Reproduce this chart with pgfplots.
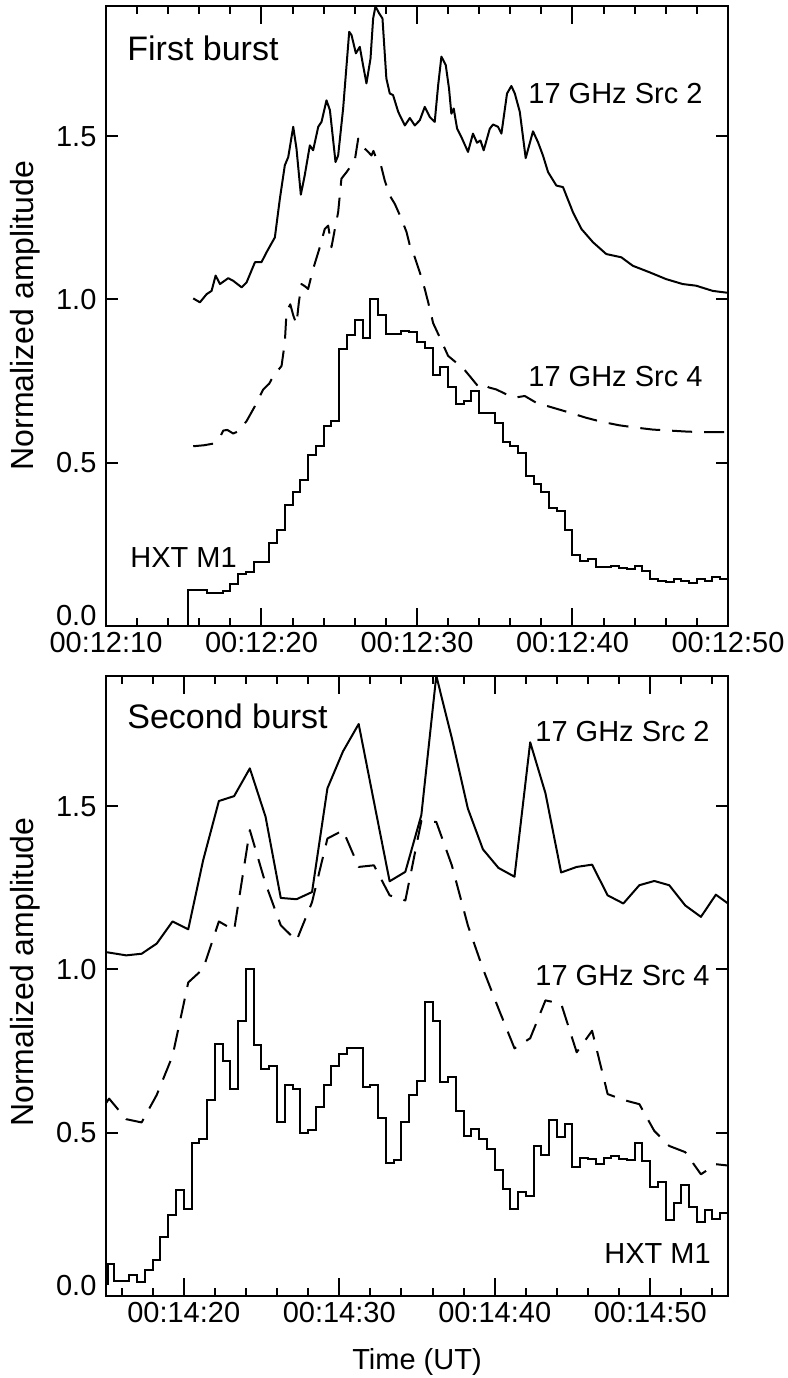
\documentclass[border=0pt]{standalone}
\usepackage{fontspec}
\setmainfont{Liberation Sans}
\usepackage{pgfplots}
\pgfplotsset{compat=1.18}
\pgfplotstableread{
x y
15.61 1.003
16.04 0.991
16.47 1.016
16.79 1.026
17.05 1.073
17.33 1.047
17.86 1.065
18.18 1.057
18.72 1.037
19.04 1.052
19.58 1.114
20.00 1.114
20.32 1.144
20.86 1.190
21.18 1.308
21.50 1.411
21.72 1.436
22.04 1.529
22.25 1.462
22.53 1.321
22.78 1.380
23.11 1.472
23.32 1.457
23.65 1.529
23.86 1.544
24.18 1.610
24.40 1.580
24.76 1.421
24.93 1.441
25.25 1.585
25.64 1.820
25.79 1.810
26.07 1.754
26.32 1.774
26.53 1.718
26.75 1.662
27.01 1.738
27.18 1.861
27.33 1.898
27.56 1.877
27.78 1.861
28.03 1.677
28.25 1.631
28.46 1.626
28.79 1.575
29.00 1.554
29.22 1.533
29.54 1.556
29.86 1.533
30.18 1.549
30.50 1.590
30.82 1.559
31.14 1.544
31.36 1.656
31.57 1.744
31.85 1.718
32.06 1.646
32.21 1.569
32.36 1.585
32.58 1.523
32.85 1.498
33.28 1.452
33.60 1.508
33.86 1.480
34.08 1.487
34.29 1.457
34.68 1.523
34.89 1.536
35.21 1.529
35.43 1.508
35.79 1.631
36.07 1.654
36.29 1.631
36.61 1.575
36.99 1.433
37.46 1.515
37.78 1.482
38.10 1.441
38.43 1.390
38.96 1.349
39.39 1.344
40.03 1.267
40.57 1.216
41.32 1.175
42.17 1.139
43.14 1.129
43.88 1.103
44.96 1.083
46.03 1.062
47.09 1.047
47.95 1.042
49.02 1.026
49.85 1.021
50.00 1.020
}\topsrctwo
\pgfplotstableread{
x y
15.61 0.550
16.30 0.553
16.90 0.558
17.30 0.575
17.54 0.598
17.80 0.600
18.18 0.589
18.52 0.596
19.04 0.627
19.58 0.673
20.11 0.724
20.50 0.742
20.76 0.765
21.29 0.796
21.50 0.868
21.61 0.962
21.85 0.985
22.05 0.950
22.25 0.924
22.40 0.990
22.57 1.047
22.80 1.040
23.00 1.032
23.32 1.093
23.75 1.160
24.07 1.216
24.29 1.226
24.50 1.160
24.72 1.216
24.93 1.267
25.14 1.370
25.47 1.390
26.00 1.426
26.22 1.493
26.53 1.467
26.86 1.452
27.07 1.441
27.20 1.455
27.35 1.436
27.63 1.421
27.93 1.364
28.25 1.318
28.57 1.293
29.00 1.247
29.33 1.206
29.54 1.165
29.75 1.144
30.18 1.083
30.50 1.032
30.72 0.991
31.04 0.927
31.47 0.883
32.00 0.827
32.30 0.815
32.53 0.806
32.85 0.796
33.39 0.765
33.99 0.730
34.36 0.737
34.63 0.730
35.10 0.724
35.75 0.709
36.29 0.699
36.93 0.704
37.68 0.683
38.75 0.668
39.82 0.653
40.89 0.637
41.96 0.624
43.03 0.614
44.10 0.607
45.17 0.601
46.25 0.598
47.32 0.595
48.39 0.593
49.78 0.593
50.00 0.592
}\topsrcfour
\pgfplotstableread{
x y
15.29 0
15.29 0.108
16.5 0.100
17.0 0.101
17.5 0.106
18.0 0.127
18.5 0.159
19.0 0.164
19.5 0.194
20.5 0.253
21.0 0.294
21.5 0.369
22.0 0.409
22.5 0.448
23.0 0.522
23.5 0.550
24.0 0.611
24.5 0.626
25.0 0.849
25.5 0.891
26.0 0.937
26.5 0.881
27.0 1.000
27.5 0.953
28.0 0.893
28.5 0.895
29.0 0.902
29.5 0.900
30.0 0.868
30.5 0.850
31.0 0.767
31.5 0.794
32.0 0.733
32.5 0.678
33.0 0.688
33.5 0.719
34.0 0.653
35.0 0.620
35.5 0.562
36.0 0.550
36.5 0.530
37.0 0.460
37.5 0.434
38.0 0.409
38.5 0.361
39.0 0.353
39.5 0.292
40.0 0.217
40.5 0.199
41.0 0.205
41.5 0.179
42.0 0.181
42.5 0.183
43.0 0.176
43.5 0.175
44.0 0.184
44.5 0.169
45.0 0.143
45.5 0.138
46.0 0.135
46.5 0.144
47.0 0.138
47.5 0.130
48.0 0.144
48.5 0.138
49.0 0.148
49.5 0.143
50.0 0.143
}\tophxt
\pgfplotstableread{
x y
15.00 1.053
16.30 1.043
17.29 1.048
18.26 1.079
19.28 1.147
20.29 1.123
21.25 1.335
22.26 1.516
23.24 1.531
24.25 1.616
25.26 1.468
26.24 1.219
27.25 1.215
28.25 1.237
29.24 1.555
30.24 1.668
31.25 1.752
32.23 1.514
33.24 1.270
34.25 1.299
35.28 1.473
36.24 1.900
37.24 1.709
38.27 1.493
39.24 1.368
40.24 1.311
41.27 1.284
42.28 1.696
43.26 1.540
44.27 1.297
45.27 1.314
46.26 1.321
47.26 1.227
48.27 1.202
49.30 1.258
50.26 1.271
51.22 1.258
52.25 1.196
53.26 1.161
54.22 1.229
55.00 1.202
}\botsrctwo
\pgfplotstableread{
x y
15.00 0.590
15.20 0.604
16.30 0.541
17.29 0.531
18.26 0.615
19.28 0.735
20.29 0.960
21.25 1.002
22.26 1.147
23.24 1.120
24.25 1.427
25.26 1.263
26.24 1.135
27.25 1.088
28.25 1.206
29.24 1.401
30.24 1.426
31.25 1.314
32.23 1.319
33.24 1.227
34.25 1.211
35.28 1.455
36.24 1.452
37.24 1.319
38.27 1.135
39.24 1.002
40.24 0.880
41.27 0.758
42.28 0.789
43.26 0.905
44.27 0.895
45.27 0.746
46.26 0.812
47.26 0.618
48.27 0.600
49.30 0.587
50.26 0.505
51.22 0.459
52.25 0.440
53.26 0.372
54.22 0.403
55.00 0.399
}\botsrcfour
\pgfplotstableread{
x y
15.0 0.036
15.1 0.098
15.5 0.044
16.0 0.044
16.5 0.062
17.0 0.042
17.5 0.078
18.0 0.109
18.5 0.180
19.0 0.246
19.5 0.323
20.0 0.266
20.5 0.467
21.0 0.481
21.5 0.599
22.0 0.771
22.5 0.720
23.0 0.635
23.5 0.841
24.0 1.000
24.5 0.768
25.0 0.695
25.5 0.705
26.0 0.531
26.5 0.645
27.0 0.635
27.5 0.498
28.0 0.509
28.5 0.577
29.0 0.645
29.5 0.705
30.0 0.741
30.5 0.758
31.0 0.760
31.5 0.641
32.0 0.645
32.5 0.546
33.0 0.406
33.5 0.415
34.0 0.531
34.5 0.615
35.0 0.659
35.5 0.901
36.0 0.843
36.5 0.656
37.0 0.671
37.5 0.566
38.0 0.488
38.5 0.510
39.0 0.479
39.5 0.449
40.0 0.385
40.5 0.326
41.0 0.266
41.5 0.318
42.0 0.305
42.5 0.459
43.0 0.431
43.5 0.538
44.0 0.487
44.5 0.525
45.0 0.394
45.5 0.423
46.0 0.420
46.5 0.403
47.0 0.423
47.5 0.428
48.0 0.418
48.5 0.415
49.0 0.469
49.5 0.413
50.0 0.334
50.5 0.348
51.0 0.231
51.5 0.283
52.0 0.338
52.5 0.273
53.0 0.225
53.5 0.264
54.0 0.236
54.5 0.254
55.0 0.254
}\bothxt
\pgfplotsset{
  panel/.style={
    scale only axis, width=311pt, height=310pt,
    ymin=0, ymax=1.9,
    axis line style={line width=1pt},
    every tick/.style={line width=1pt, black},
    major tick length=9pt, minor tick length=4pt,
    ytick=\empty,
    extra y ticks={0,0.5,1,1.5},
    extra y tick labels={\smash{0.0},0.5,1.0,1.5},
    extra y tick style={major tick length=6pt},
    minor ytick={0.1,0.2,0.3,0.4,0.6,0.7,0.8,0.9,1.1,1.2,1.3,1.4,1.6,1.7,1.8},
    yticklabel style={inner sep=0pt, xshift=-4.6pt},
    xticklabel style={inner sep=0pt, yshift=-3pt},
    ylabel={Normalized amplitude},
    ylabel style={anchor=center, font=\fontsize{16pt}{19pt}\selectfont},
  },
  solidline/.style={line width=1pt, black, line join=round},
  dashline/.style={line width=1pt, black, line join=round, dash pattern=on 10pt off 6pt},
  hxtline/.style={line width=1pt, black, const plot},
}
\begin{document}
\fontsize{14.5pt}{17pt}\selectfont
\begin{tikzpicture}
\path[use as bounding box] (-53pt,2.85pt) rectangle (341pt,-686.15pt);
\begin{axis}[panel, at={(0,0)}, anchor=north west,
  xmin=10, xmax=50,
  xtick={10,20,30,40,50},
  xticklabels={00:12:10,00:12:20,00:12:30,00:12:40,00:12:50},
  minor xtick={12,14,16,18,22,24,26,28,32,34,36,38,42,44,46,48},
  ylabel style={at={(axis description cs:-0.130,0.5)}}]
\addplot[solidline] table {\topsrctwo};
\addplot[dashline] table {\topsrcfour};
\addplot[hxtline] table {\tophxt};
\node[anchor=base west, inner sep=0pt, font=\fontsize{17pt}{20pt}\selectfont] at (axis cs:11.35,1.733) {First burst};
\node[anchor=base west, inner sep=0pt] at (axis cs:37.14,1.601) {17 GHz Src 2};
\node[anchor=base west, inner sep=0pt] at (axis cs:37.14,0.732) {17 GHz Src 4};
\node[anchor=base west, inner sep=0pt] at (axis cs:11.54,0.178) {HXT M1};
\end{axis}
\begin{axis}[panel, at={(0,-335pt)}, anchor=north west,
  xmin=15, xmax=55,
  xtick={20,30,40,50},
  xticklabels={00:14:20,00:14:30,00:14:40,00:14:50},
  minor xtick={16,18,22,24,26,28,32,34,36,38,42,44,46,48,52,54},
  ylabel style={at={(axis description cs:-0.130,0.522)}},
  xlabel={Time (UT)},
  xlabel style={at={(axis description cs:0.5,-0.119)}, anchor=base}]
\addplot[solidline] table {\botsrctwo};
\addplot[dashline] table {\botsrcfour};
\addplot[hxtline] table {\bothxt};
\node[anchor=base west, inner sep=0pt, font=\fontsize{17pt}{20pt}\selectfont] at (axis cs:16.35,1.737) {Second burst};
\node[anchor=base west, inner sep=0pt] at (axis cs:42.59,1.697) {17 GHz Src 2};
\node[anchor=base west, inner sep=0pt] at (axis cs:42.59,0.952) {17 GHz Src 4};
\node[anchor=base west, inner sep=0pt] at (axis cs:47.03,0.100) {HXT M1};
\end{axis}
\end{tikzpicture}
\end{document}
